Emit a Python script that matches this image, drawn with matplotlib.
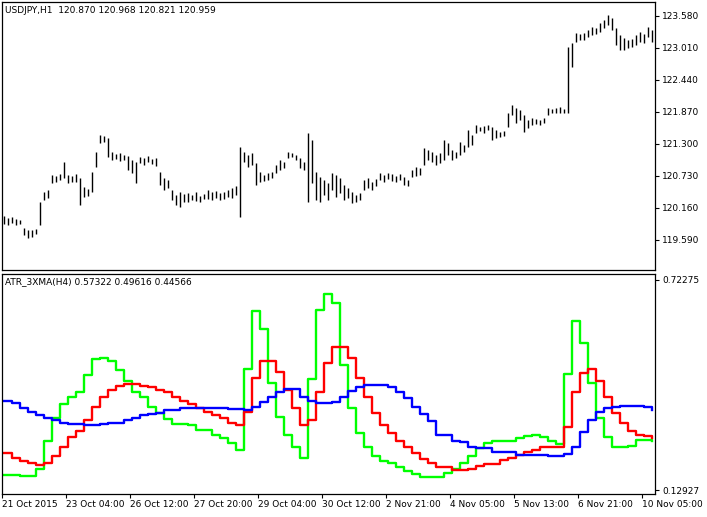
import matplotlib
matplotlib.use("Agg")
import matplotlib.pyplot as plt
import numpy as np

bar_high = [120.02,119.99,120.00,119.97,119.95, 119.81,119.77,119.76,119.79, 120.27, 120.45,120.48,
 120.75,120.73,120.77, 120.98, 120.75,120.73,120.77, 120.70, 120.54,120.50, 120.80, 121.16, 121.46,121.44,
 121.41, 121.16,121.12,121.14,121.11, 121.09,121.02,120.98, 121.07,121.05,121.09,121.03,121.05,
 120.80,120.70,120.66, 120.48,120.39,120.45,120.41, 120.43,120.39,120.45,120.38,120.41,
 120.48,120.45,120.46,120.43,120.45,120.48,120.52,120.55, 121.25, 121.16,121.11,121.14, 120.96,
 120.80,120.75,120.78,120.80, 120.93,121.02,120.98, 121.16,121.14,121.11, 121.05,120.98, 121.50, 121.37, 120.80,
 120.71,120.66,120.61, 120.78,120.75,120.70, 120.57,120.52, 120.45,120.39,120.43, 120.66,120.70,120.62,120.68,
 120.78,120.75,120.78,120.77,120.73,120.77, 120.71,120.66, 120.84,120.89,120.87, 121.23,121.19,
 121.16,121.11,121.14, 121.37,121.32, 121.19,121.16, 121.34,121.28, 121.55,121.46, 121.64,121.60,121.62,121.64,
 121.60,121.55, 121.51,121.53, 121.85, 121.99,121.94,121.91, 121.82,121.73, 121.76,121.75,121.73,121.76,
 121.94,121.92,121.94,121.96,121.92, 123.03, 123.10, 123.28,123.26,123.28, 123.33,123.38,123.37, 123.46,
 123.51,123.60,123.55, 123.37,123.24, 123.19,123.15,123.17, 123.24,123.30,123.26, 123.38,123.33]
bar_low = [119.88,119.86,119.90,119.86,119.88, 119.67,119.63,119.65,119.69, 119.86, 120.30,120.34,
 120.61,120.63,120.66, 120.70, 120.61,120.63,120.63, 120.22, 120.36,120.38, 120.45, 120.89, 121.32,121.34,
 121.07, 121.02,121.04,121.00,121.02, 120.84,120.78,120.61, 120.96,120.93,120.98,120.95,120.91,
 120.57,120.48,120.52, 120.30,120.22,120.18,120.27, 120.27,120.30,120.29,120.27,120.32,
 120.32,120.30,120.34,120.30,120.32,120.36,120.34,120.39, 120.00, 120.98,120.89,120.93, 120.57,
 120.62,120.64,120.66,120.70, 120.79,120.84,120.87, 121.05,121.07,121.02, 120.87,120.84, 120.27, 120.61, 120.30,
 120.27,120.39,120.30, 120.48,120.36,120.43, 120.30,120.34, 120.25,120.27,120.30, 120.48,120.52,120.48,120.55,
 120.66,120.62,120.68,120.64,120.62,120.66, 120.57,120.55, 120.71,120.73,120.75, 120.93,121.02,
 120.98,120.93,120.96, 121.02,121.11, 121.02,121.05, 121.11,121.16, 121.25,121.28, 121.50,121.53,121.50,121.55,
 121.37,121.41, 121.43,121.44, 121.60, 121.82,121.67,121.73, 121.51,121.59, 121.64,121.66,121.64,121.67,
 121.82,121.85,121.85,121.85,121.85, 121.85, 122.67, 123.12,123.15,123.15, 123.21,123.24,123.26, 123.30,
 123.37,123.42,123.33, 123.06,122.97, 122.97,123.01,123.03, 123.06,123.12,123.10, 123.21,123.12]

atr_green = [0.171,0.171,0.168,0.168,0.188,0.267,0.334,0.371,0.393,0.405,
 0.455,0.500,0.503,0.495,0.467,0.436,0.405,0.391,0.365,0.348,
 0.331,0.317,0.317,0.312,0.300,0.300,0.286,0.275,0.261,0.241,
 0.472,0.636,0.585,0.433,0.337,0.286,0.250,0.221,0.444,0.638,
 0.683,0.658,0.483,0.362,0.289,0.250,0.224,0.210,0.205,0.193,
 0.182,0.174,0.165,0.165,0.165,0.176,0.190,0.207,0.224,0.247,
 0.261,0.269,0.269,0.269,0.275,0.281,0.286,0.278,0.267,0.258,
 0.458,0.607,0.545,0.433,0.334,0.278,0.250,0.250,0.255,0.272,
 0.272,0.267]
atr_red = [0.235,0.221,0.210,0.205,0.199,0.207,0.224,0.252,0.278,0.297,
 0.328,0.365,0.393,0.413,0.424,0.430,0.430,0.424,0.419,0.413,
 0.405,0.393,0.382,0.371,0.362,0.351,0.340,0.334,0.320,0.312,
 0.351,0.447,0.495,0.495,0.464,0.413,0.362,0.312,0.328,0.405,
 0.489,0.534,0.534,0.503,0.447,0.393,0.348,0.314,0.289,0.267,
 0.250,0.233,0.216,0.207,0.193,0.193,0.185,0.185,0.190,0.196,
 0.202,0.202,0.213,0.221,0.227,0.236,0.241,0.250,0.252,0.252,
 0.306,0.407,0.461,0.472,0.438,0.393,0.348,0.320,0.297,0.286,
 0.281,0.275]
atr_blue = [0.382,0.374,0.362,0.351,0.340,0.334,0.326,0.320,0.317,0.317,
 0.312,0.312,0.317,0.320,0.320,0.328,0.334,0.340,0.345,0.348,
 0.354,0.354,0.360,0.362,0.362,0.362,0.362,0.362,0.357,0.357,
 0.354,0.365,0.379,0.393,0.407,0.416,0.416,0.393,0.382,0.376,
 0.376,0.379,0.393,0.410,0.419,0.427,0.427,0.427,0.419,0.405,
 0.388,0.365,0.345,0.323,0.286,0.286,0.269,0.264,0.252,0.247,
 0.247,0.238,0.236,0.236,0.227,0.227,0.227,0.227,0.224,0.224,
 0.230,0.252,0.292,0.328,0.351,0.362,0.365,0.368,0.368,0.368,
 0.365,0.354]

time_labels = ["21 Oct 2015", "23 Oct 04:00", "26 Oct 12:00", "27 Oct 20:00", "29 Oct 04:00",
               "30 Oct 12:00", "2 Nov 21:00", "4 Nov 05:00", "5 Nov 13:00", "6 Nov 21:00", "10 Nov 05:00"]
price_ticks = [123.580, 123.010, 122.440, 121.870, 121.300, 120.730, 120.160, 119.590]
atr_ticks = [0.72275, 0.12927]

W, H = 707, 517
fig = plt.figure(figsize=(W/100, H/100), dpi=100)
def rect(l, t, r, b):
    return [l/W, 1-b/H, (r-l)/W, (b-t)/H]
ax1 = fig.add_axes(rect(2, 2, 655, 270))
ax2 = fig.add_axes(rect(2, 274, 655, 494))

xb = np.arange(len(bar_high)) * 2      # H1 bar index
xi = np.arange(len(atr_green)) * 4
ax1.vlines(xb, bar_low, bar_high, color="black", lw=1.0)
ax1.set_ylim(119.055, 123.829)
ax1.set_xlim(-1, 325.5)
ax1.yaxis.tick_right()
ax1.set_yticks(price_ticks)
ax1.set_yticklabels([f"{v:.3f}" for v in price_ticks])
ax1.set_xticks([])
ax1.text(0.004, 0.985, "USDJPY,H1  120.870 120.968 120.821 120.959", transform=ax1.transAxes,
         fontsize=6.5, va="top", ha="left")

ax2.step(xi, atr_green, where="post", color="#00ff00", lw=1.7)
ax2.step(xi, atr_red, where="post", color="#ff0000", lw=1.7)
ax2.step(xi, atr_blue, where="post", color="#0000ff", lw=1.7)
ax2.set_ylim(0.118, 0.7397)
ax2.set_xlim(-1, 325.5)
ax2.yaxis.tick_right()
ax2.set_yticks(atr_ticks)
ax2.set_yticklabels([f"{v:.5f}" for v in atr_ticks])
tick_pos = [-1 + 32*k for k in range(len(time_labels))]
ax2.set_xticks(tick_pos)
ax2.set_xticklabels(time_labels, ha="left")
ax2.text(0.004, 0.985, "ATR_3XMA(H4) 0.57322 0.49616 0.44566", transform=ax2.transAxes,
         fontsize=6.5, va="top", ha="left")

for ax in (ax1, ax2):
    ax.tick_params(axis="both", labelsize=6.5, length=3, width=0.8, direction="out", pad=1.5)
    for s in ax.spines.values():
        s.set_linewidth(0.9)
ax1.tick_params(axis="y", pad=2)
ax2.tick_params(axis="y", pad=2)

fig.savefig("out.png", dpi=100)
